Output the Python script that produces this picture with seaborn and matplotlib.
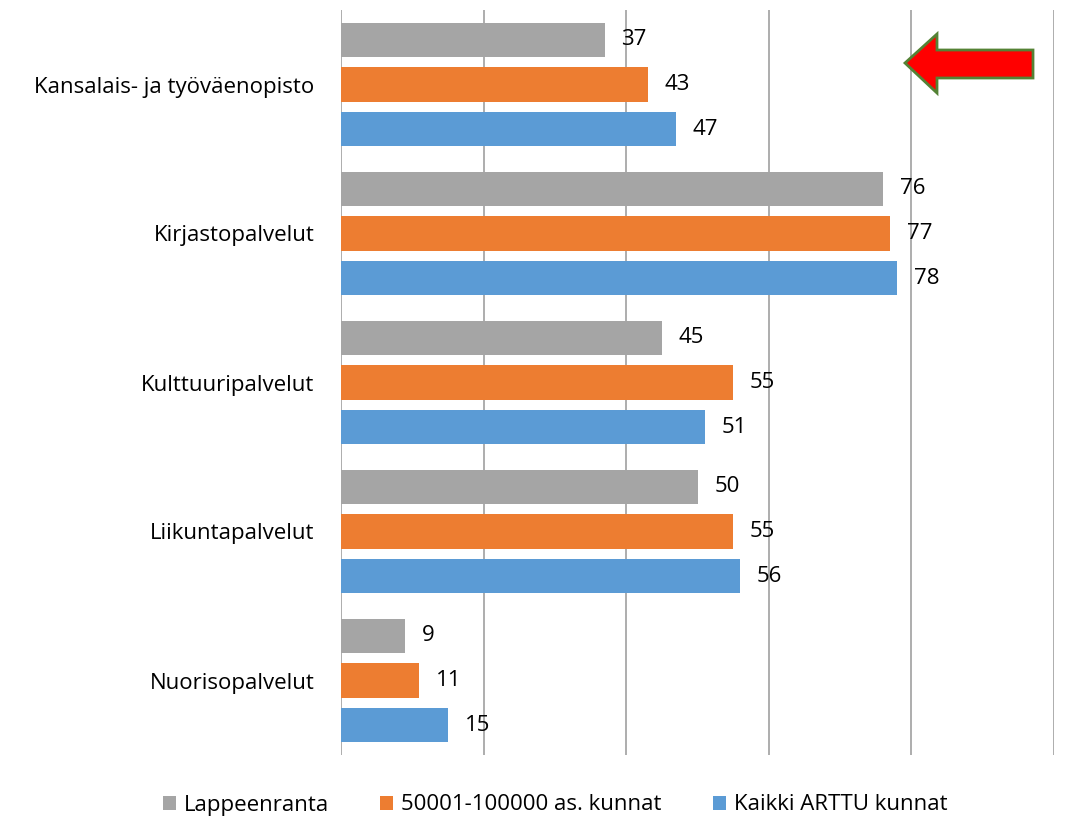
import matplotlib
matplotlib.use("Agg")
import matplotlib.pyplot as plt
import seaborn as sns
import pandas as pd
from matplotlib.patches import Polygon

categories = ["Kansalais- ja työväenopisto", "Kirjastopalvelut", "Kulttuuripalvelut",
              "Liikuntapalvelut", "Nuorisopalvelut"]
series = ["Lappeenranta", "50001-100000 as. kunnat", "Kaikki ARTTU kunnat"]
lappeenranta = [37, 76, 45, 50, 9]
kunnat_50k = [43, 77, 55, 55, 11]
arttu = [47, 78, 51, 56, 15]
colors = ["#A5A5A5", "#ED7D31", "#5B9BD5"]

rows = []
for s, vals in zip(series, [lappeenranta, kunnat_50k, arttu]):
    for c, v in zip(categories, vals):
        rows.append({"cat": c, "series": s, "value": v})
df = pd.DataFrame(rows)

sns.set_style("white")
plt.rcParams["font.family"] = ["Open Sans", "DejaVu Sans"]
plt.rcParams["text.color"] = "black"
plt.rcParams["ytick.color"] = "black"

fig = plt.figure(figsize=(10.89, 8.23), dpi=100)
ax = fig.add_axes([341/1089, 1-755/823, (1054-341)/1089, (755-10)/823])

sns.barplot(data=df, y="cat", x="value", hue="series", order=categories,
            hue_order=series, palette=colors, orient="h", width=0.9, gap=0.23,
            ax=ax, legend=True, saturation=1, linewidth=0)

ax.set_xlim(0, 100)
ax.set_ylim(4.5, -0.5)
ax.set_xticks([0, 20, 40, 60, 80, 100])
ax.set_xticklabels([])
ax.grid(axis="x", color="#A0A0A0", linewidth=1.2)
ax.set_axisbelow(True)
for sp in ax.spines.values():
    sp.set_visible(False)
ax.tick_params(axis="both", length=0)
ax.tick_params(axis="y", pad=19, labelsize=16, labelcolor="black")
ax.set_xlabel("")
ax.set_ylabel("")

for cont in ax.containers:
    ax.bar_label(cont, fmt="%d", padding=12, fontsize=16, color="black")

handles, labels = ax.get_legend_handles_labels()
ax.legend_.remove()
fig.legend(handles, labels, loc="center", bbox_to_anchor=(555/1089, 1-805/823),
           ncol=3, frameon=False, fontsize=16, handlelength=0.6, handleheight=0.6,
           handletextpad=0.35, columnspacing=2.3, labelcolor="black")

# decorative arrow (figure pixel coords)
pts_px = [(905, 63), (937, 34), (937, 50), (1033, 50), (1033, 78), (937, 78), (937, 93)]
pts = [(x/1089, 1-y/823) for x, y in pts_px]
fig.patches.append(Polygon(pts, closed=True, facecolor="#FF0000", edgecolor="#548235",
                           linewidth=2, transform=fig.transFigure, figure=fig))

fig.savefig("out.png", dpi=100)
